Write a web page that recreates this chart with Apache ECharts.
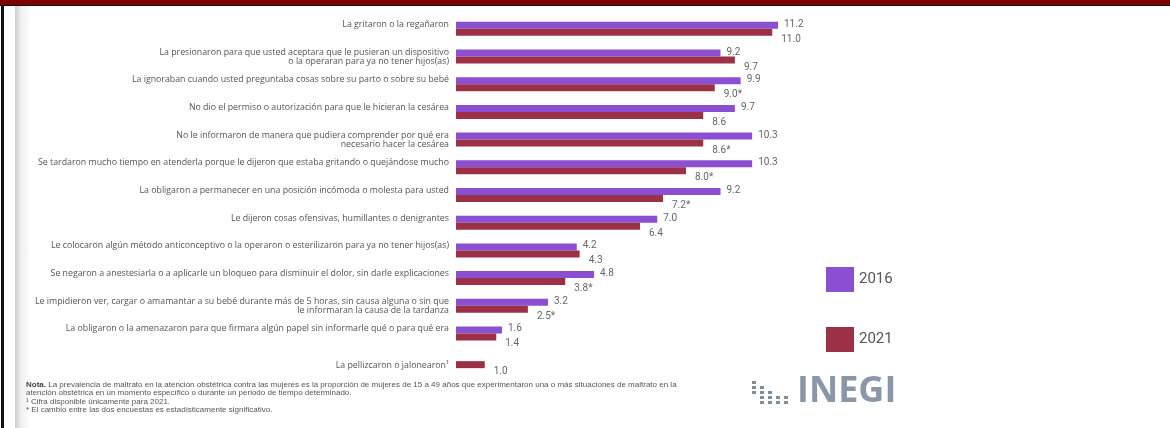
<!DOCTYPE html>
<html>
<head>
<meta charset="utf-8">
<script src="https://cdn.jsdelivr.net/npm/echarts@6/dist/echarts.min.js"></script>
<style>
  html, body { margin: 0; padding: 0; background: #fff; }
  #wrap { position: relative; width: 1170px; height: 428px; overflow: hidden; }
  #chart { position: absolute; left: 0; top: 0; width: 1170px; height: 428px; }
  .topbar { position: absolute; left: 0; top: 0; width: 1170px; height: 5px; background: #7f0000; border-bottom: 1px solid #111; }
  .leftbar { position: absolute; left: 1px; top: 5px; width: 3px; height: 423px; background: #111; }
  .shadow { position: absolute; left: 15px; top: 6px; width: 16px; height: 422px;
    background: linear-gradient(to right, #cfcfcf, #f0f0f0 40%, #fff); }
</style>
</head>
<body>
<div id="wrap">
  <div class="shadow"></div>
  <div id="chart"></div>
  <div class="topbar"></div>
  <div class="leftbar"></div>
</div>
<script>
const categories = [
  'La gritaron o la regañaron',
  'La presionaron para que usted aceptara que le pusieran un dispositivo\no la operaran para ya no tener hijos(as)',
  'La ignoraban cuando usted preguntaba cosas sobre su parto o sobre su bebé',
  'No dio el permiso o autorización para que le hicieran la cesárea',
  'No le informaron de manera que pudiera comprender por qué era\nnecesario hacer la cesárea',
  'Se tardaron mucho tiempo en atenderla porque le dijeron que estaba gritando o quejándose mucho',
  'La obligaron a permanecer en una posición incómoda o molesta para usted',
  'Le dijeron cosas ofensivas, humillantes o denigrantes',
  'Le colocaron algún método anticonceptivo o la operaron o esterilizaron para ya no tener hijos(as)',
  'Se negaron a anestesiarla o a aplicarle un bloqueo para disminuir el dolor, sin darle explicaciones',
  'Le impidieron ver, cargar o amamantar a su bebé durante más de 5 horas, sin causa alguna o sin que\nle informaran la causa de la tardanza',
  'La obligaron o la amenazaron para que firmara algún papel sin informarle qué o para qué era',
  'La pellizcaron o jalonearon¹'
];
const values2016 = [11.2, 9.2, 9.9, 9.7, 10.3, 10.3, 9.2, 7.0, 4.2, 4.8, 3.2, 1.6, null];
const values2021 = [11.0, 9.7, 9.0, 8.6, 8.6, 8.0, 7.2, 6.4, 4.3, 3.8, 2.5, 1.4, 1.0];
// cambio estadisticamente significativo (*)
const significant2021 = [false, false, true, false, true, true, true, false, false, true, true, false, false];
const seriesNames = ['2016', '2021'];

const notes = [
  '{b|Nota.} La prevalencia de maltrato en la atención obstétrica contra las mujeres es la proporción de mujeres de 15 a 49 años que experimentaron una o más situaciones de maltrato en la',
  'atención obstétrica en un momento específico o durante un periodo de tiempo determinado.',
  '¹ Cifra disponible únicamente para 2021.',
  '* El cambio entre las dos encuestas es estadísticamente significativo.'
];

const purple = '#8b50d2';
const maroon = '#9c3046';

const chart = echarts.init(document.getElementById('chart'));

// logo dots (decoracion del logo INEGI)
const dots = [];
const dotRows = [[0], [0, 1], [0, 1, 2], [1, 2, 3, 4], [1, 2, 3, 4]];
dotRows.forEach((cols, r) => {
  cols.forEach(c => {
    dots.push({
      type: 'rect',
      shape: { x: 752 + c * 8, y: 381 + r * 5, width: 4, height: 3 },
      style: { fill: '#7f8e9e' }
    });
  });
});

const option = {
  backgroundColor: 'transparent',
  animation: false,
  textStyle: { fontFamily: '"Open Sans", "Noto Sans", sans-serif' },
  grid: { left: 456, top: 15, width: 345, height: 360 },
  legend: {
    data: seriesNames,
    orient: 'vertical',
    left: 821,
    top: 262,
    itemWidth: 28,
    itemHeight: 25,
    itemGap: 35,
    icon: 'rect',
    textStyle: { fontSize: 15, color: '#555', fontFamily: 'Roboto, sans-serif' }
  },
  xAxis: {
    type: 'value',
    min: 0,
    max: 12,
    show: false
  },
  yAxis: {
    type: 'category',
    data: categories,
    inverse: true,
    axisLine: { show: false },
    axisTick: { show: false },
    axisLabel: {
      margin: 7,
      fontSize: 8.8,
      lineHeight: 9,
      color: '#555',
      formatter: (v, i) => {
        if (i === categories.length - 1) return '\n' + v;
        return v.indexOf('\n') >= 0 ? v : v + '\n';
      }
    }
  },
  series: [
    {
      name: seriesNames[0],
      type: 'bar',
      data: values2016,
      barWidth: 7,
      barGap: '0%',
      itemStyle: { color: purple },
      label: {
        show: true,
        position: 'right',
        distance: 6,
        offset: [0, -1],
        fontSize: 10,
        fontFamily: 'Roboto, sans-serif',
        color: '#666',
        formatter: p => p.value.toFixed(1)
      }
    },
    {
      name: seriesNames[1],
      type: 'bar',
      data: values2021,
      barWidth: 7,
      itemStyle: { color: maroon },
      label: {
        show: true,
        position: 'right',
        distance: 9,
        offset: [0, 7],
        fontSize: 10,
        fontFamily: 'Roboto, sans-serif',
        color: '#666',
        formatter: p => p.value.toFixed(1) + (significant2021[p.dataIndex] ? '*' : '')
      }
    }
  ],
  graphic: [
    {
      type: 'text',
      left: 26,
      top: 380,
      style: {
        text: notes.join('\n'),
        fontSize: 8,
        lineHeight: 8.6,
        fill: '#555',
        rich: { b: { fontWeight: 'bold', fontSize: 8, fill: '#444' } }
      }
    },
    {
      type: 'text',
      left: 797,
      top: 374,
      style: {
        text: 'INEGI',
        fontSize: 36,
        fontWeight: 'bold',
        fontFamily: '"Open Sans", "Noto Sans", sans-serif',
        fill: '#8a97a6'
      }
    }
  ].concat(dots)
};

chart.setOption(option);
</script>
</body>
</html>
